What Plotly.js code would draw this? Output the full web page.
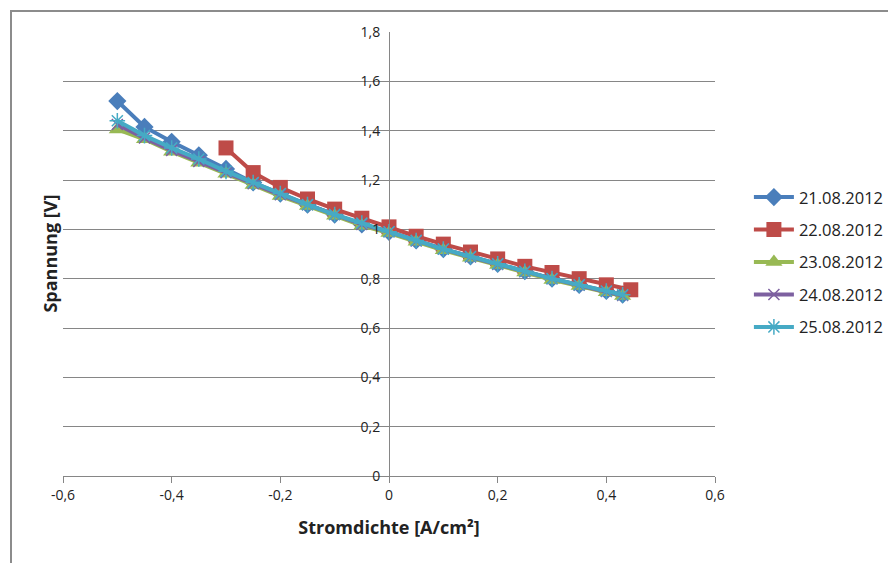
<!DOCTYPE html>
<html><head><meta charset="utf-8">
<script src="https://cdn.plot.ly/plotly-3.0.1.min.js"></script>
<style>body{margin:0;padding:0;background:#fff}#frame{position:absolute;left:10px;top:10px;width:890px;height:570px;border:2px solid #8c8c8c;pointer-events:none}</style>
</head><body>
<div id="plot" style="width:888px;height:563px;position:absolute;left:0;top:0"></div>
<div id="frame"></div>
<script>
const seriesNames = ["21.08.2012","22.08.2012","23.08.2012","24.08.2012","25.08.2012"];
const xMain = [-0.5,-0.45,-0.4,-0.35,-0.3,-0.25,-0.2,-0.15,-0.1,-0.05,0,0.05,0.1,0.15,0.2,0.25,0.3,0.35,0.4,0.43];
const xRed = [-0.3,-0.25,-0.2,-0.15,-0.1,-0.05,0,0.05,0.1,0.15,0.2,0.25,0.3,0.35,0.4,0.445];
const yBlue = [1.52,1.415,1.355,1.30,1.245,1.19,1.145,1.10,1.06,1.02,0.99,0.955,0.92,0.89,0.86,0.83,0.80,0.775,0.75,0.735];
const yRed = [1.33,1.23,1.17,1.123,1.082,1.045,1.01,0.972,0.94,0.908,0.88,0.85,0.825,0.80,0.775,0.755];
const yGreen = [1.405,1.365,1.315,1.27,1.225,1.18,1.135,1.095,1.055,1.015,0.985,0.95,0.915,0.885,0.855,0.825,0.795,0.77,0.745,0.73];
const yPurple = [1.425,1.37,1.32,1.275,1.23,1.185,1.14,1.10,1.06,1.02,0.99,0.953,0.92,0.888,0.858,0.828,0.80,0.773,0.748,0.732];
const yCyan = [1.44,1.38,1.33,1.285,1.235,1.19,1.145,1.10,1.06,1.025,0.99,0.955,0.92,0.89,0.86,0.83,0.80,0.775,0.75,0.735];
const xTickVals = [-0.6,-0.4,-0.2,0,0.2,0.4,0.6];
const xTickText = ["-0,6","-0,4","-0,2","0","0,2","0,4","0,6"];
const colors = ["#4A7EBB","#BE4B48","#98B954","#7D60A0","#46AAC5"];
const symbols = ["diamond","square","triangle-up","x-thin-open","asterisk-open"];
const sizes = [14,15,15,11,13];
const xs = [xMain,xRed,xMain,xMain,xMain];
const ys = [yBlue,yRed,yGreen,yPurple,yCyan];
const traces = seriesNames.map((n,i)=>({
  x: xs[i], y: ys[i], name: n, type:'scatter', mode:'lines+markers',
  legendgroup: 'g'+i,
  line:{color:colors[i], width:4},
  marker:{symbol:symbols[i], size:sizes[i], color:colors[i], line:{color:colors[i], width:(i>=3?1.5:0)}}
}));
const font = 'Open Sans, Noto Sans, sans-serif';
const layout = {
  width:888, height:563,
  margin:{l:63, r:173, t:32, b:87, autoexpand:false},
  separators:', ',
  paper_bgcolor:'#fff', plot_bgcolor:'#fff',
  font:{family:font, size:14, color:'#222'},
  showlegend:true,
  legend:{x:1.052, y:0.667, xanchor:'left', yanchor:'top', tracegroupgap:8, font:{size:16.5, color:'#222'}, itemwidth:40},
  xaxis:{range:[-0.6,0.6], tickvals:xTickVals, ticktext:xTickText, showgrid:false,
    zeroline:true, zerolinecolor:'#868686', zerolinewidth:1,
    showline:true, linecolor:'#868686', linewidth:1, ticks:'outside', ticklen:6, tickcolor:'#868686',
    tickfont:{size:14}, title:{text:'<b>Stromdichte [A/cm²]</b>', font:{size:18}, standoff:18}},
  yaxis:{range:[0,1.8], dtick:0.2, tick0:0, anchor:'free', position:0.5,
    showgrid:true, gridcolor:'#868686', gridwidth:1, zeroline:false,
    showline:true, linecolor:'#868686', linewidth:1, ticks:'', ticklabelstandoff:6,
    tickfont:{size:14}, title:{text:''}},
  annotations:[{text:'<b>Spannung [V]</b>', xref:'paper', yref:'paper', x:-0.042, y:0.5, textangle:-90, showarrow:false, font:{size:18, family:font, color:'#222'}}]
};
Plotly.newPlot('plot', traces, layout, {displayModeBar:false, staticPlot:true});
</script>
</body></html>
